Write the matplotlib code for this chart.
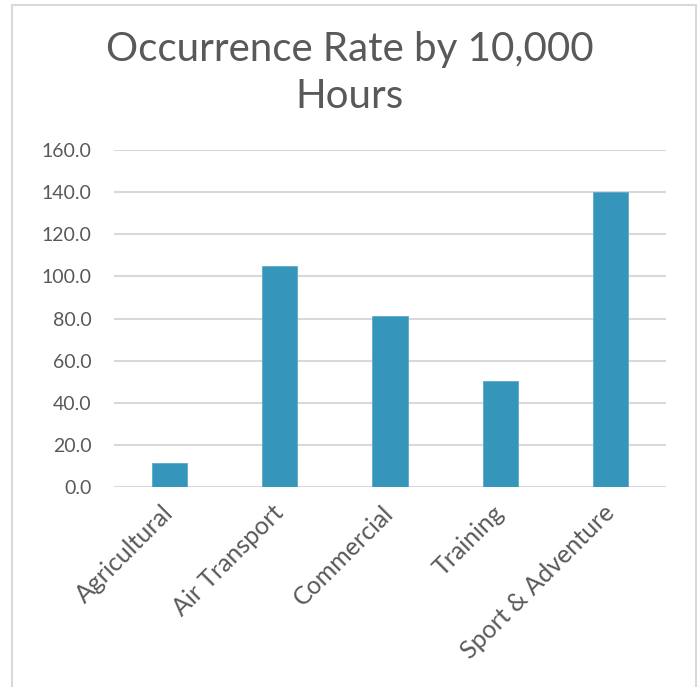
import matplotlib.pyplot as plt
from matplotlib.patches import Rectangle

categories = ['Agricultural', 'Air Transport', 'Commercial', 'Training', 'Sport & Adventure']
rates = [11.4, 104.9, 81.2, 50.3, 139.9]
yticks = [0, 20, 40, 60, 80, 100, 120, 140, 160]

plt.rcParams['font.family'] = ['Lato', 'DejaVu Sans']
txt = '#595959'
W, H = 699, 687

fig = plt.figure(figsize=(W / 100, H / 100), dpi=100)
fig.patch.set_facecolor('white')

# chart frame
fig.patches.append(Rectangle((12 / W, -0.01), (696 - 12) / W, 1 - 5 / H + 0.01,
                             transform=fig.transFigure, fill=False,
                             edgecolor='#D9D9D9', linewidth=1.5))

ax = fig.add_axes([114 / W, 1 - 487 / H, (666 - 114) / W, (487 - 150) / H])
x = range(len(categories))
ax.bar(x, rates, width=0.32, color='#3595BB', edgecolor='#5AAAC8', linewidth=0.6, zorder=3)
ax.set_xlim(-0.5, len(categories) - 0.5)
ax.set_ylim(0, 160)
ax.set_yticks(yticks)
ax.set_yticklabels([f'{v:.1f}' for v in yticks], fontsize=14, color=txt)
ax.set_xticks(list(x))
ax.set_xticklabels(categories, rotation=45, ha='right', va='center',
                   rotation_mode='anchor', fontsize=18, color=txt)
ax.tick_params(axis='both', length=0)
ax.tick_params(axis='y', pad=16)
ax.tick_params(axis='x', pad=16)
ax.grid(axis='y', color='#D9D9D9', linewidth=1.5, zorder=0)
ax.set_axisbelow(True)
for s in ax.spines.values():
    s.set_visible(False)

fig.text(0.5, 1 - 50 / H, 'Occurrence Rate by 10,000', ha='center', va='center',
         fontsize=29, color=txt)
fig.text(0.5, 1 - 97 / H, 'Hours', ha='center', va='center',
         fontsize=29, color=txt)

fig.savefig('out.png', dpi=100)
